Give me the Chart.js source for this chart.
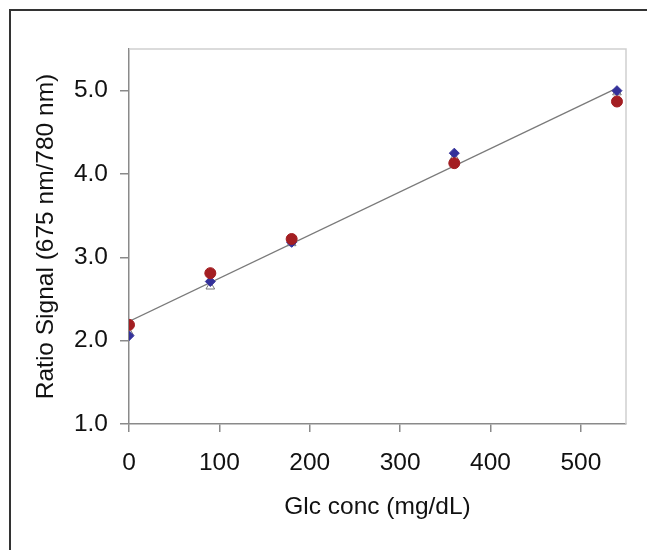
<!DOCTYPE html>
<html>
<head>
<meta charset="utf-8">
<script src="https://cdn.jsdelivr.net/npm/chart.js@4/dist/chart.umd.min.js"></script>
<style>
  html, body { margin: 0; padding: 0; background: #fff; }
  #wrap { position: relative; width: 647px; height: 550px; overflow: hidden; }
  #frame { position: absolute; left: 9px; top: 9px; width: 700px; height: 600px;
           border-top: 2px solid #333; border-left: 2px solid #333; }
  canvas { position: absolute; left: 0; top: 0; }
</style>
</head>
<body>
<div id="wrap">
  <div id="frame"></div>
  <canvas id="glc_chart" width="647" height="550"></canvas>
</div>
<script>
// glucose concentrations (mg/dL)
const conc = [0, 90, 180, 360, 540];
// ratio signal 675 nm / 780 nm
const signalA = [2.06, 2.71, 3.18, 4.25, 5.00];
const signalB = [2.19, 2.81, 3.22, 4.13, 4.87];
const signalC = [2.10, 2.65, 3.17, 4.20, 4.98];
// linear fit end points
const fitX = [0, 540];
const fitY = [2.23, 5.03];

const xTicks = [0, 100, 200, 300, 400, 500];
const yTicks = [1, 2, 3, 4, 5];

const pts = (xs, ys) => xs.map((x, i) => ({ x: x, y: ys[i] }));

const font = { family: "'Liberation Sans', Arial, Helvetica, sans-serif", size: 24.5 };
const axisGray = "#8a8a8a";

// light frame on top/right of the plot area
const plotFrame = {
    id: "plotFrame",
    beforeDatasetsDraw(chart) {
        const a = chart.chartArea;
        const ctx = chart.ctx;
        ctx.save();
        ctx.strokeStyle = "#cfcfcf";
        ctx.lineWidth = 1.5;
        ctx.beginPath();
        ctx.moveTo(a.left, a.top);
        ctx.lineTo(a.right, a.top);
        ctx.lineTo(a.right, a.bottom);
        ctx.stroke();
        ctx.restore();
    }
};

new Chart(document.getElementById("glc_chart"), {
    type: "scatter",
    data: {
        datasets: [
            {
                data: pts(conc, signalB),
                pointStyle: "circle",
                pointRadius: 5.5,
                backgroundColor: "#a31e22",
                borderColor: "#a31e22",
                borderWidth: 1
            },
            {
                data: pts(conc, signalA),
                pointStyle: "rectRot",
                pointRadius: 5,
                backgroundColor: "#34319a",
                borderColor: "#34319a",
                borderWidth: 1
            },
            {
                data: pts(conc, signalC),
                pointStyle: "triangle",
                pointRadius: 5,
                backgroundColor: "#ffffff",
                borderColor: "#777777",
                borderWidth: 1
            },
            {
                type: "line",
                data: pts(fitX, fitY),
                borderColor: "#7a7a7a",
                borderWidth: 1.3,
                pointRadius: 0,
                fill: false
            }
        ]
    },
    options: {
        responsive: false,
        animation: false,
        events: [],
        layout: { padding: { left: 0, top: 49, right: 21, bottom: 0 } },
        plugins: { legend: { display: false }, tooltip: { enabled: false } },
        scales: {
            x: {
                type: "linear",
                min: 0,
                max: 550,
                afterBuildTicks: (s) => { s.ticks = xTicks.map(v => ({ value: v })); },
                afterFit: (s) => { s.height = 126; },
                grid: { drawOnChartArea: false, drawTicks: true, tickLength: 8, color: axisGray, lineWidth: 1.5 },
                border: { color: axisGray, width: 1.5 },
                ticks: { font: font, color: "#111", padding: 17, maxRotation: 0 },
                title: {
                    display: true,
                    text: "Glc conc (mg/dL)",
                    font: font,
                    color: "#111",
                    padding: { top: 0, bottom: 28 }
                }
            },
            y: {
                type: "linear",
                min: 1,
                max: 5.5,
                afterBuildTicks: (s) => { s.ticks = yTicks.map(v => ({ value: v })); },
                afterFit: (s) => { s.width = 129; },
                grid: { drawOnChartArea: false, drawTicks: true, tickLength: 9, color: axisGray, lineWidth: 1.5 },
                border: { color: axisGray, width: 1.5 },
                ticks: {
                    font: font,
                    color: "#111",
                    padding: 12,
                    callback: (v) => Number(v).toFixed(1)
                },
                title: {
                    display: true,
                    text: "Ratio Signal (675 nm/780 nm)",
                    font: font,
                    color: "#111",
                    padding: { top: 32, bottom: 0 }
                }
            }
        }
    },
    plugins: [plotFrame]
});
</script>
</body>
</html>
